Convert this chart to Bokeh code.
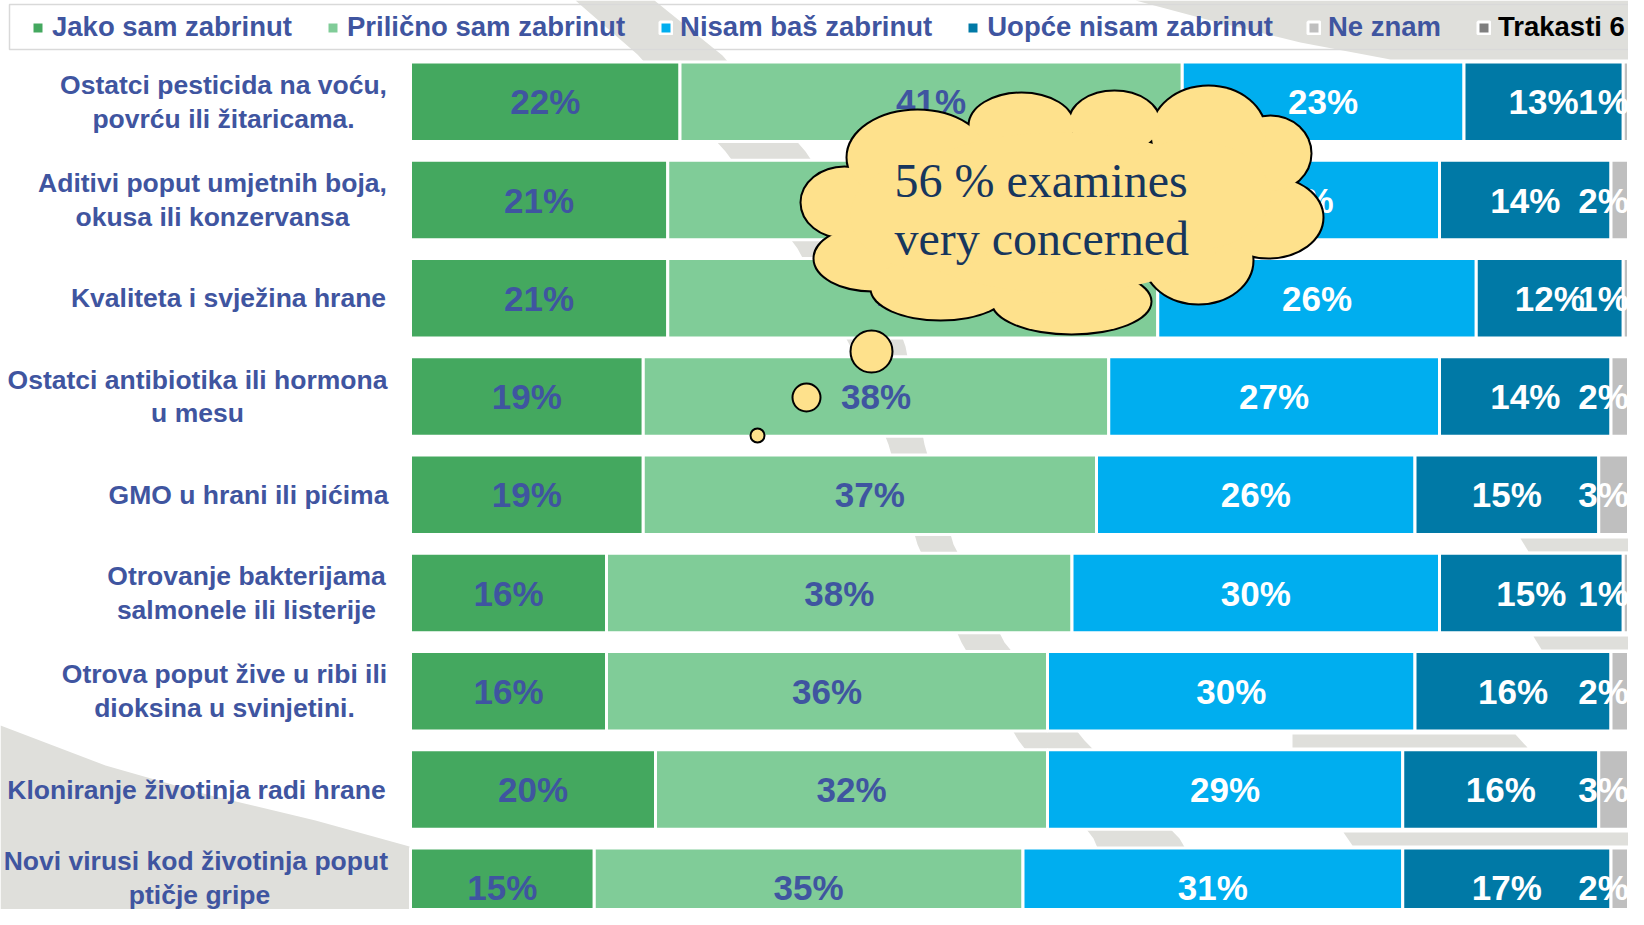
import numpy as np
from bokeh.plotting import figure
from bokeh.models import Range1d, ColumnDataSource, Legend, LegendItem
from bokeh.core.properties import value
from bokeh.embed import file_html
from bokeh.resources import INLINE

# ---------------- data ----------------
categories = [
    "Ostatci pesticida na voću,\npovrću ili žitaricama.",
    "Aditivi poput umjetnih boja,\nokusa ili konzervansa",
    "Kvaliteta i svježina hrane",
    "Ostatci antibiotika ili hormona\nu mesu",
    "GMO u hrani ili pićima",
    "Otrovanje bakterijama\nsalmonele ili listerije",
    "Otrova poput žive u ribi ili\ndioksina u svinjetini.",
    "Kloniranje životinja radi hrane",
    "Novi virusi  kod životinja poput\nptičje gripe",
]
jako = [22, 21, 21, 19, 19, 16, 16, 20, 15]
prilicno = [41, 40, 40, 38, 37, 38, 36, 32, 35]
nisam = [23, 23, 26, 27, 26, 30, 30, 29, 31]
uopce = [13, 14, 12, 14, 15, 15, 16, 16, 17]
ne_znam = [1, 2, 1, 2, 3, 1, 2, 3, 2]
trakasti6 = [0, 0, 0, 0, 0, 0, 0, 0, 0]

series_names = ["Jako sam zabrinut", "Prilično sam zabrinut", "Nisam baš zabrinut",
                "Uopće nisam zabrinut", "Ne znam", "Trakasti 6"]
callout_lines = ["56 % examines", "very concerned"]

# ---------------- style / layout ----------------
series = [jako, prilicno, nisam, uopce, ne_znam, trakasti6]
colors = ["#44A85F", "#80CC98", "#00AEEF", "#0079A6", "#BFBFBF", "#7F7F7F"]
label_colors = ["#3F55A0", "#3F55A0", "white", "white", "white", None]
TXT_BLUE = "#3F55A0"
FONT = "Liberation Sans"

W, H = 1628, 909
PPP = 12.25          # pixels per percent
X0 = 410             # px of 0 %
ROW0, ROW_STEP = 101.25, 98.25


def fx(X):  # pixel -> data x
    return (X - X0) / PPP


def fy(Y):  # pixel -> data y
    return (Y - ROW0) / ROW_STEP


p = figure(width=W, height=H, output_backend="svg", toolbar_location=None,
           x_range=Range1d(fx(0), fx(W)),
           y_range=Range1d(fy(H), fy(0)),
           x_axis_location=None, y_axis_location=None,
           min_border=0, outline_line_color=None)
p.grid.visible = False
p.background_fill_color = "white"

GREY_BG = "#DFDFDB"
# background decorations (slide template)
swoosh_left = [(0, 725), (105, 765), (210, 795), (315, 820), (409, 846), (409, 925), (0, 925)]
band_left = [(575, 0), (637, 54), (725, 151), (797, 248), (850, 346), (888, 444), (917, 544),
             (961, 642), (1018, 740), (1093, 838), (1130, 925)]
band_right = [(654, 0), (722, 55), (805, 151), (870, 248), (905, 346), (924, 444), (953, 544),
              (1004, 642), (1084, 740), (1179, 838), (1230, 925)]
band = band_left + band_right[::-1]
swoosh_top = [(1135, 0), (1644, 0), (1644, 59), (1390, 59), (1300, 42), (1210, 20)]
right_bits = [
    [(1520, 538), (1644, 538), (1644, 551), (1528, 551)],
    [(1533, 636), (1644, 636), (1644, 649), (1541, 649)],
    [(1292, 734), (1515, 734), (1527, 747), (1292, 747)],
    [(1343, 832), (1644, 832), (1644, 845), (1352, 845)],
]
for poly in [swoosh_left, band, swoosh_top] + right_bits:
    p.patch([fx(a) for a, b in poly], [fy(b) for a, b in poly],
            fill_color=GREY_BG, line_color=None)

# ---------------- stacked bars ----------------
rows = np.arange(len(categories))
left = np.zeros(len(categories))
renderers = []
for k, vals in enumerate(series):
    vals = np.array(vals, dtype=float)
    right = left + vals
    src = ColumnDataSource(dict(y=rows, left=left.copy(), right=right.copy(),
                                mid=(left + right) / 2, txt=[f"{int(v)}%" for v in vals]))
    r = p.hbar(y="y", left="left", right="right", height=0.81, source=src,
               fill_color=colors[k], line_color="white", line_width=3)
    renderers.append(r)
    if label_colors[k] is not None:
        xs = src.data["mid"]
        if k == 4:
            xs = np.minimum(xs, 97.4)
        src.data["lx"] = xs
        p.text(x="lx", y="y", text="txt", source=src, text_align="center",
               text_baseline="middle", text_font=value(FONT), text_font_style="bold",
               text_font_size="35px", text_color=label_colors[k])
    left = right

# ---------------- category labels ----------------
label_cx = [223, 212, 228, 197, 248, 246, 224, 196, 199]
label_dy = [0, 0, 0, 0, 0, 0, 0, 0, -0.1]
p.text(x=[fx(c) for c in label_cx], y=rows + np.array(label_dy), text=categories,
       text_align="center", text_baseline="middle", text_font=value(FONT),
       text_font_style="bold", text_font_size="26.5px", text_color=TXT_BLUE,
       text_line_height=1.12)

# ---------------- legend box ----------------
p.quad(left=[fx(9)], right=[fx(1643)], top=[fy(4)], bottom=[fy(49)],
       fill_alpha=0, line_color="#D9D9D9", line_width=1.5)

leg_a = Legend(items=[LegendItem(label=series_names[i], renderers=[renderers[i]]) for i in range(5)],
               orientation="horizontal", location=(30, 866))
leg_b = Legend(items=[LegendItem(label=series_names[5], renderers=[renderers[5]])],
               orientation="horizontal", location=(1476, 866))
for lg, col in [(leg_a, TXT_BLUE), (leg_b, "black")]:
    lg.label_text_font = FONT
    lg.label_text_font_style = "bold"
    lg.label_text_font_size = "27.5px"
    lg.label_text_color = col
    lg.glyph_width = 15
    lg.glyph_height = 15
    lg.label_standoff = 7
    lg.spacing = 33
    lg.padding = 0
    lg.margin = 0
    lg.border_line_color = None
    lg.background_fill_alpha = 0
    p.add_layout(lg)

# ---------------- cloud callout ----------------
YELLOW = "#FEE18C"
cloud_bumps = [
    (844, 202, 43, 35), (872, 258, 58, 32), (940, 288, 69, 31), (1071, 301, 79, 32),
    (1198, 260, 54, 43), (1268, 217, 54, 40), (1270, 153, 40, 37), (1208, 133, 57, 47),
    (1114, 122, 45, 31), (1021, 125, 52, 32), (917, 157, 70, 47),
]
cloud_core = [(1060, 212, 180, 80), (930, 215, 80, 55), (1190, 195, 80, 55)]
bx = [fx(b[0]) for b in cloud_bumps]
by = [fy(b[1]) for b in cloud_bumps]
bw = [2 * b[2] for b in cloud_bumps]
bh = [2 * b[3] for b in cloud_bumps]
p.ellipse(x=bx, y=by, width=bw, height=bh, width_units="screen", height_units="screen",
          fill_color=YELLOW, line_color="black", line_width=4)
p.ellipse(x=bx + [fx(c[0]) for c in cloud_core], y=by + [fy(c[1]) for c in cloud_core],
          width=bw + [2 * c[2] for c in cloud_core], height=bh + [2 * c[3] for c in cloud_core],
          width_units="screen", height_units="screen", fill_color=YELLOW, line_color=None)

bubbles = [(871, 351, 21), (806, 397, 14), (757, 435, 7)]
p.scatter(x=[fx(b[0]) for b in bubbles], y=[fy(b[1]) for b in bubbles],
          size=[2 * b[2] for b in bubbles], marker="circle",
          fill_color=YELLOW, line_color="black", line_width=2)

p.text(x=[fx(894), fx(894)], y=[fy(180), fy(238)], text=callout_lines,
       text_align="left", text_baseline="alphabetic", text_font=value("Liberation Serif"),
       text_font_size="48px", text_color="#17365D")

open("out.html", "w").write(file_html(p, INLINE))
